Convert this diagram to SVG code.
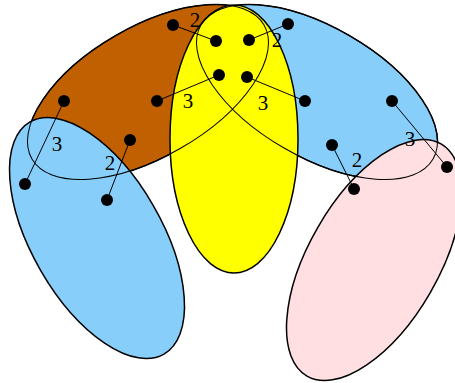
<svg xmlns="http://www.w3.org/2000/svg" width="455" height="383" viewBox="0 0 455 383">
<defs>
<style>
.fill{stroke:#000;stroke-width:1.5}
.outline{fill:none;stroke:#000;stroke-width:1}
.edge{stroke:#000;stroke-width:1;fill:none}
.dot{fill:#000}
.lbl{font-family:"Liberation Serif","Times New Roman",serif;font-size:21px;fill:#000;text-anchor:middle}
</style>
</defs>
<g id="hyperedges">
<ellipse class="fill" fill="#C06000" cx="0" cy="0" rx="134" ry="65" transform="translate(148,92) rotate(-30)"/>
<ellipse class="fill" fill="#87CEFA" cx="0" cy="0" rx="134" ry="65" transform="translate(317,92) rotate(30)"/>
<ellipse class="fill" fill="#FFFF00" cx="234" cy="139" rx="64" ry="134"/>
<ellipse class="fill" fill="#87CEFA" cx="0" cy="0" rx="134" ry="65" transform="translate(97,238) rotate(60)"/>
<ellipse class="fill" fill="#FFDFE1" cx="0" cy="0" rx="134" ry="65" transform="translate(374,260) rotate(-60)"/>
<ellipse class="outline" cx="0" cy="0" rx="134" ry="65" transform="translate(148,92) rotate(-30)"/>
<ellipse class="outline" cx="0" cy="0" rx="134" ry="65" transform="translate(317,92) rotate(30)"/>
</g>
<g id="connectors">
<line class="edge" x1="173" y1="25" x2="216" y2="41"/>
<line class="edge" x1="249" y1="40" x2="288" y2="24"/>
<line class="edge" x1="219" y1="75" x2="157" y2="101"/>
<line class="edge" x1="247" y1="77" x2="305" y2="101"/>
<line class="edge" x1="64" y1="101" x2="25" y2="184"/>
<line class="edge" x1="130" y1="140" x2="107" y2="200"/>
<line class="edge" x1="392" y1="101" x2="447" y2="167"/>
<line class="edge" x1="332" y1="145" x2="354" y2="189"/>
<text class="lbl" x="195" y="27">2</text>
<text class="lbl" x="277" y="47">2</text>
<text class="lbl" x="188" y="108">3</text>
<text class="lbl" x="263" y="110">3</text>
<text class="lbl" x="57" y="151">3</text>
<text class="lbl" x="110" y="170">2</text>
<text class="lbl" x="410" y="146">3</text>
<text class="lbl" x="357" y="167">2</text>
</g>
<g id="n1"><circle class="dot" cx="173" cy="25" r="6"/></g>
<g id="n2"><circle class="dot" cx="216" cy="41" r="6"/></g>
<g id="n3"><circle class="dot" cx="249" cy="40" r="6"/></g>
<g id="n4"><circle class="dot" cx="288" cy="24" r="6"/></g>
<g id="n5"><circle class="dot" cx="219" cy="75" r="6"/></g>
<g id="n6"><circle class="dot" cx="247" cy="77" r="6"/></g>
<g id="n7"><circle class="dot" cx="157" cy="101" r="6"/></g>
<g id="n8"><circle class="dot" cx="305" cy="101" r="6"/></g>
<g id="n9"><circle class="dot" cx="64" cy="101" r="6"/></g>
<g id="n10"><circle class="dot" cx="130" cy="140" r="6"/></g>
<g id="n11"><circle class="dot" cx="25" cy="184" r="6"/></g>
<g id="n12"><circle class="dot" cx="107" cy="200" r="6"/></g>
<g id="n13"><circle class="dot" cx="392" cy="101" r="6"/></g>
<g id="n14"><circle class="dot" cx="332" cy="145" r="6"/></g>
<g id="n15"><circle class="dot" cx="354" cy="189" r="6"/></g>
<g id="n16"><circle class="dot" cx="447" cy="167" r="6"/></g>
</svg>
